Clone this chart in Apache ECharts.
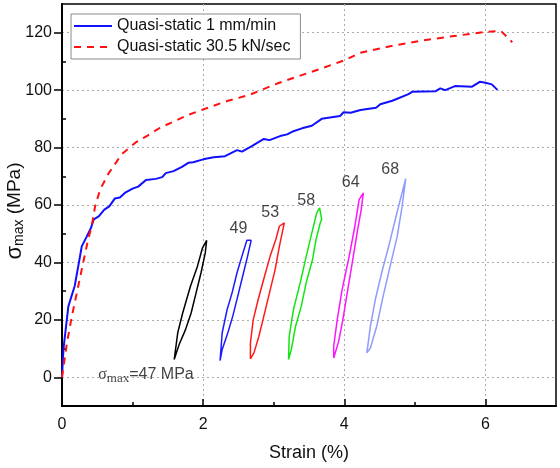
<!DOCTYPE html>
<html>
<head>
<meta charset="utf-8">
<script src="https://cdn.jsdelivr.net/npm/echarts@6/dist/echarts.min.js"></script>
<style>
  html, body { margin: 0; padding: 0; background: #fff; }
  #main { width: 560px; height: 468px; }
</style>
</head>
<body>
<div id="main"></div>
<script>
// main curves
var slowX = [0, 0.02, 0.09, 0.18, 0.24, 0.28, 0.35, 0.41, 0.45, 0.52, 0.6, 0.67, 0.75, 0.82, 0.89, 1.0, 1.08, 1.19, 1.33, 1.42, 1.47, 1.58, 1.7, 1.79, 1.86, 2.0, 2.15, 2.31, 2.48, 2.55, 2.69, 2.86, 2.94, 3.09, 3.19, 3.28, 3.4, 3.54, 3.68, 3.94, 3.99, 4.09, 4.23, 4.45, 4.51, 4.68, 4.91, 4.96, 5.29, 5.36, 5.43, 5.57, 5.81, 5.92, 6.0, 6.09, 6.17];
var slowY = [0, 9.7, 24.7, 31.8, 40, 45.6, 49, 52, 55, 56, 58.4, 59.5, 62.3, 62.6, 64.2, 65.7, 66.4, 68.7, 69.1, 69.7, 71.1, 71.8, 73.3, 74.7, 74.9, 75.9, 76.6, 77, 79.1, 78.6, 80.5, 83, 82.6, 84, 84.6, 85.7, 86.7, 87.6, 90, 91, 92.3, 92.1, 93.1, 93.9, 95.1, 96.3, 98.6, 99.4, 99.6, 100.6, 100, 101.4, 101.2, 102.9, 102.6, 102, 100.1];
var fastX = [0, 0.07, 0.14, 0.23, 0.3, 0.37, 0.42, 0.47, 0.54, 0.66, 0.85, 1.04, 1.2, 1.39, 1.77, 2.0, 2.34, 2.67, 3.07, 3.66, 3.99, 4.23, 4.65, 5.13, 5.6, 5.98, 6.22, 6.38];
var fastY = [0, 12, 21.3, 31.7, 39.9, 48, 52.6, 59.6, 65.4, 71, 77.8, 81.7, 84, 86.9, 91.2, 93.3, 96.2, 98.5, 102.5, 107.4, 110.3, 113, 115.3, 117.4, 119, 120.2, 120.6, 116.7];

// unloading/reloading loops (up one side, back down the other)
var loop47X = [1.59, 1.66, 1.75, 1.83, 1.9, 1.97, 2.03, 2.05, 1.99, 1.92, 1.82, 1.71, 1.64, 1.59];
var loop47Y = [6.2, 11.4, 16.6, 22.4, 29.4, 36.4, 43.3, 47.7, 45, 38.7, 31.7, 22.4, 15.5, 6.2];
var loop49X = [2.24, 2.27, 2.35, 2.42, 2.49, 2.56, 2.63, 2.68, 2.67, 2.62, 2.55, 2.48, 2.41, 2.34, 2.27, 2.24];
var loop49Y = [5.8, 9.7, 15.5, 21.3, 28.2, 35.2, 42.2, 47.7, 48.2, 47.7, 42.2, 36.4, 29.4, 23.6, 15.5, 5.8];
var loop53X = [2.67, 2.72, 2.79, 2.86, 2.94, 3.02, 3.08, 3.15, 3.14, 3.08, 3.03, 2.95, 2.87, 2.78, 2.71, 2.67, 2.67];
var loop53Y = [6.4, 8.5, 14.3, 21.3, 29.4, 37.5, 45.6, 53.8, 54, 52.6, 48, 42.2, 35.2, 27.1, 20.1, 12, 6.4];
var loop58X = [3.21, 3.25, 3.31, 3.39, 3.46, 3.55, 3.6, 3.66, 3.68, 3.65, 3.61, 3.52, 3.45, 3.38, 3.28, 3.22, 3.21];
var loop58Y = [6.2, 9.7, 17.8, 24.7, 32.9, 41, 48, 53.8, 55, 59, 57.3, 48.2, 41, 33.4, 23.6, 14.3, 6.2];
var loop64X = [3.85, 3.92, 3.98, 4.05, 4.12, 4.19, 4.24, 4.27, 4.25, 4.21, 4.15, 4.07, 3.97, 3.9, 3.85, 3.85];
var loop64Y = [6.7, 12.5, 20.1, 30.6, 41, 51.5, 58.4, 64.2, 64.2, 61.9, 52.6, 42.2, 30.6, 20.1, 10.8, 6.7];
var loop68X = [4.32, 4.37, 4.46, 4.55, 4.65, 4.75, 4.82, 4.87, 4.74, 4.63, 4.53, 4.44, 4.37, 4.32];
var loop68Y = [8.5, 10.2, 17.8, 28.2, 38.7, 49.1, 59.6, 69.2, 56.7, 45.7, 36.4, 27.1, 17.8, 8.5];

// loop annotations
var noteX = [1.19, 2.5, 2.95, 3.46, 4.09, 4.65];
var noteY = [1, 51.7, 57.4, 61.7, 67.7, 72.4];
var noteText = ['{s|σ}{sub|max}=47 MPa', '49', '53', '58', '64', '68'];

// axis ticks
var xTicks = [0, 2, 4, 6];
var xMinor = [1, 3, 5];
var yTicks = [0, 20, 40, 60, 80, 100, 120];
var yMinor = [10, 30, 50, 70, 90, 110];

var FONT = '"Liberation Sans", Arial, sans-serif';

function pairs(xs, ys) {
  return xs.map(function (x, i) { return [x, ys[i]]; });
}

function loop(xs, ys, color) {
  return {
    type: 'line',
    data: pairs(xs, ys),
    symbol: 'none',
    silent: true,
    lineStyle: { color: color, width: 1.5 },
    z: 3
  };
}

var myChart = echarts.init(document.getElementById('main'));

myChart.setOption({
  animation: false,
  backgroundColor: '#fff',
  textStyle: { fontFamily: FONT },
  grid: {
    left: 62, right: 4, top: 4, bottom: 62,
    containLabel: false,
    outerBoundsMode: 'none',
    show: true,
    borderColor: '#000',
    borderWidth: 1.5
  },
  legend: {
    orient: 'vertical',
    left: 71,
    top: 14,
    data: ['Quasi-static 1 mm/min', 'Quasi-static 30.5 kN/sec'],
    itemWidth: 38,
    itemHeight: 12,
    itemGap: 5,
    itemStyle: { opacity: 0 },
    padding: [4, 10, 4, 2],
    backgroundColor: '#fff',
    borderColor: '#8a8a8a',
    borderWidth: 1,
    borderRadius: 0,
    textStyle: { fontSize: 16, color: '#111', fontFamily: FONT }
  },
  xAxis: [
    {
      type: 'value',
      min: 0, max: 7, interval: 1,
      name: 'Strain (%)',
      nameLocation: 'middle',
      nameGap: 38,
      nameMoveOverlap: false,
      nameTextStyle: { fontSize: 18, color: '#111', fontFamily: FONT },
      axisLine: { show: true, onZero: false, lineStyle: { color: '#000', width: 2 } },
      axisTick: { show: true, inside: true, length: 7, customValues: xTicks, lineStyle: { color: '#000', width: 1.5 } },
      axisLabel: { show: true, margin: 11, fontSize: 16, color: '#111', customValues: xTicks },
      splitLine: { show: true, lineStyle: { color: '#aaa', type: [2, 3], width: 1 } }
    },
    {
      type: 'value',
      position: 'bottom',
      min: 0, max: 7, interval: 1,
      axisLine: { show: false, onZero: false },
      axisTick: { show: true, inside: true, length: 4, customValues: xMinor, lineStyle: { color: '#000', width: 1.5 } },
      axisLabel: { show: false },
      splitLine: { show: false }
    }
  ],
  yAxis: [
    {
      type: 'value',
      min: -10, max: 130, interval: 10,
      name: '{s|σ}{sub|max}{t| (MPa)}',
      nameLocation: 'middle',
      nameRotate: 90,
      nameGap: 36,
      nameMoveOverlap: false,
      nameTextStyle: {
        padding: [0, 12, 0, 0],
        rich: {
          s: { fontSize: 22, fontFamily: FONT, color: '#111' },
          sub: { fontSize: 14, fontFamily: FONT, color: '#111', verticalAlign: 'bottom', padding: [9, 0, 0, 0] },
          t: { fontSize: 19, fontFamily: FONT, color: '#111' }
        }
      },
      axisLine: { show: true, onZero: false, lineStyle: { color: '#000', width: 2 } },
      axisTick: { show: true, inside: false, length: 8, customValues: yTicks, lineStyle: { color: '#000', width: 1.5 } },
      axisLabel: { show: true, margin: 10, fontSize: 16, color: '#111', customValues: yTicks },
      splitLine: { show: true, lineStyle: { color: '#aaa', type: [2, 3], width: 1 } }
    },
    {
      type: 'value',
      position: 'left',
      min: -10, max: 130, interval: 10,
      axisLine: { show: false, onZero: false },
      axisTick: { show: true, inside: true, length: 4, customValues: yMinor, lineStyle: { color: '#000', width: 1.5 } },
      axisLabel: { show: false },
      splitLine: { show: false }
    }
  ],
  series: [
    {
      name: 'Quasi-static 1 mm/min',
      type: 'line',
      data: pairs(slowX, slowY),
      symbol: 'none',
      lineStyle: { color: '#1010ff', width: 2 },
      itemStyle: { color: '#1010ff' },
      z: 4
    },
    {
      name: 'Quasi-static 30.5 kN/sec',
      type: 'line',
      data: pairs(fastX, fastY),
      symbol: 'none',
      lineStyle: { color: '#ff1010', width: 2, type: [7, 6] },
      itemStyle: { color: '#ff1010' },
      z: 4
    },
    loop(loop47X, loop47Y, '#000000'),
    loop(loop49X, loop49Y, '#1a1aff'),
    loop(loop53X, loop53Y, '#ff1a1a'),
    loop(loop58X, loop58Y, '#14e614'),
    loop(loop64X, loop64Y, '#ff14ff'),
    loop(loop68X, loop68Y, '#8c9cff'),
    {
      type: 'scatter',
      silent: true,
      symbolSize: 0,
      data: noteX.map(function (x, i) {
        return { value: [x, noteY[i]], label: { formatter: noteText[i] } };
      }),
      label: {
        show: true,
        position: 'inside',
        fontSize: 16,
        color: '#111',
        fontFamily: FONT,
        rich: {
          s: { fontSize: 16, fontFamily: '"Liberation Serif", serif', color: '#111' },
          sub: { fontSize: 13, fontFamily: '"Liberation Serif", serif', color: '#111', verticalAlign: 'bottom', padding: [8, 0, 0, 0] }
        }
      },
      z: 5
    }
  ]
});
</script>
</body>
</html>
